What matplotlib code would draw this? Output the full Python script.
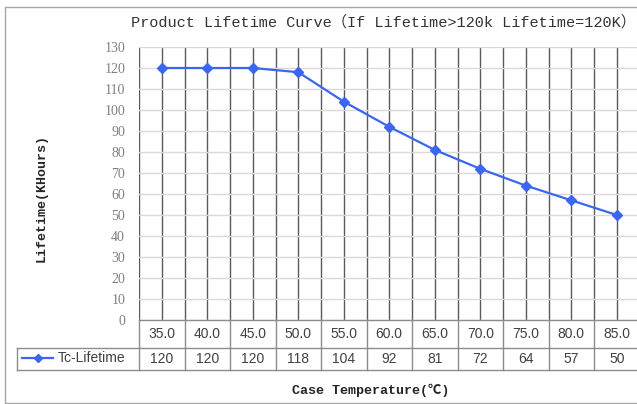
import matplotlib.pyplot as plt
from matplotlib.lines import Line2D
from matplotlib.patches import Rectangle

# datos
temperaturas = ["35.0", "40.0", "45.0", "50.0", "55.0", "60.0", "65.0", "70.0", "75.0", "80.0", "85.0"]
vida = [120, 120, 120, 118, 104, 92, 81, 72, 64, 57, 50]
serie = "Tc-Lifetime"
titulo = "Product Lifetime Curve（If Lifetime>120k Lifetime=120K）"

W, H = 637, 404
fig = plt.figure(figsize=(W / 100, H / 100), dpi=100)


def px(x0, y0, x1, y1):
    # caja en pixeles (origen arriba a la izquierda) -> fraccion de figura
    return [x0 / W, 1 - y1 / H, (x1 - x0) / W, (y1 - y0) / H]


ancho_col = 45.5
x_izq, y_sup, y_inf = 139, 47, 320
ax = fig.add_axes(px(x_izq, y_sup, x_izq + 11 * ancho_col, y_inf))
n = len(temperaturas)
xs = list(range(n))

ax.set_xlim(-0.5, n - 0.5)
ax.set_ylim(0, 130)
ax.set_yticks(range(0, 131, 10))
ax.set_xticks(xs)
ax.set_xticks([i + 0.5 for i in range(-1, n)], minor=True)
ax.tick_params(axis="x", which="both", length=0, labelbottom=False)
ax.tick_params(axis="y", length=0, pad=10, labelsize=10, labelcolor="#808080")
for lab in ax.get_yticklabels():
    lab.set_family("Liberation Serif")
ax.grid(axis="y", color="#d9d9d9", lw=1)
ax.grid(axis="x", which="both", color="#595959", lw=1)
for s in ax.spines.values():
    s.set_visible(False)
ax.set_axisbelow(True)

ax.plot(xs, vida, color="#3a66f0", lw=1.6, marker="D", ms=5, zorder=3)

# tabla de datos bajo el eje
tr = ax.get_xaxis_transform()
alto = y_inf - y_sup
f1 = -28 / alto
f2 = -50 / alto
gris = "#8c8c8c"
x_leyenda = -0.5 - (x_izq - 17) / ancho_col
for yy, x0 in [(0, -0.5), (f1, x_leyenda), (f2, x_leyenda)]:
    ax.add_line(Line2D([x0, n - 0.5], [yy, yy], transform=tr, color=gris, lw=1, clip_on=False))
for i in range(n + 1):
    ax.add_line(Line2D([i - 0.5, i - 0.5], [0, f2], transform=tr, color=gris, lw=1, clip_on=False))
ax.add_line(Line2D([x_leyenda, x_leyenda], [f1, f2], transform=tr, color=gris, lw=1, clip_on=False))
for i in range(n):
    ax.text(i, f1 / 2, temperaturas[i], transform=tr, ha="center", va="center",
            fontsize=10, color="#404040", family="Liberation Sans")
    ax.text(i, (f1 + f2) / 2, str(vida[i]), transform=tr, ha="center", va="center",
            fontsize=10, color="#404040", family="Liberation Sans")

# clave de la serie en la tabla
fig.add_artist(Line2D([22 / W, 53 / W], [1 - 358 / H] * 2, color="#3a66f0", lw=1.6))
fig.add_artist(Line2D([37.5 / W], [1 - 358 / H], color="#3a66f0", marker="D", ms=4.5, lw=0))
fig.text(125 / W, 1 - 358 / H, serie, ha="right", va="center", fontsize=10,
         color="#404040", family="Liberation Sans")

# textos
fig.text(383 / W, 1 - 22 / H, titulo, ha="center", va="center", fontsize=11,
         color="#333333", family=["Liberation Mono", "Noto Sans CJK SC"])
fig.text(371 / W, 1 - 390 / H, "Case Temperature(℃)", ha="center", va="center", fontsize=9.6,
         fontweight="bold", color="#262626", family=["Liberation Mono", "Noto Sans CJK SC"])
fig.text(42 / W, 1 - 198 / H, "Lifetime(KHours)", ha="center", va="center", fontsize=9.6,
         rotation=90, fontweight="bold", color="#262626", family=["Liberation Mono", "Noto Sans CJK SC"])

# marco exterior
fig.add_artist(Rectangle((5 / W, 1 / H), 1, 1 - 8 / H, transform=fig.transFigure,
                         fill=False, edgecolor="#a6a6a6", lw=1))

fig.savefig("out.png", dpi=100)
